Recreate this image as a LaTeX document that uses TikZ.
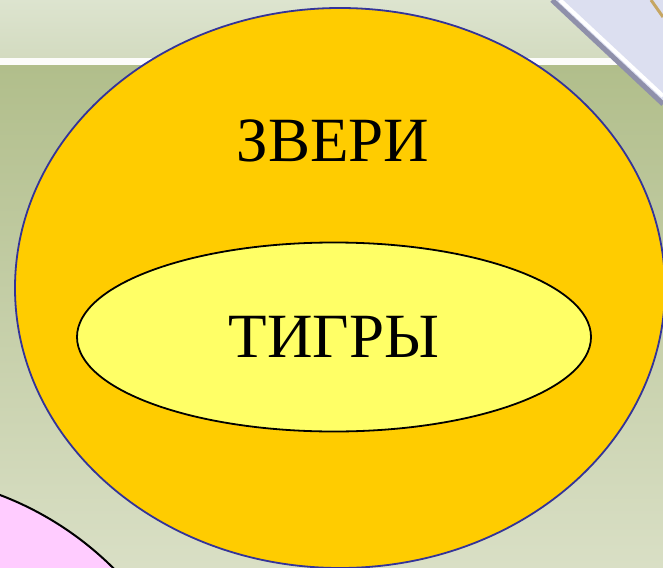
\documentclass[tikz,border=0pt]{standalone}
\usepackage{fontspec}
\setmainfont{Liberation Serif}
\usetikzlibrary{shapes.geometric}
\definecolor{bgtop}{HTML}{DDE4CF}
\definecolor{bgtopb}{HTML}{D3DBC0}
\definecolor{bgmid}{HTML}{B1BE8B}
\definecolor{bgbot}{HTML}{D9DFC5}
\definecolor{setorange}{HTML}{FFCC00}
\definecolor{setyellow}{HTML}{FFFF66}
\definecolor{setblue}{HTML}{333399}
\definecolor{setpink}{HTML}{FFCCFF}
\definecolor{barlav}{HTML}{DCDFF0}
\definecolor{bardark}{HTML}{6E6E8C}
\definecolor{bargold}{HTML}{B8903C}
\tikzset{
  bigset/.style={ellipse, draw=setblue, line width=1.8pt, fill=setorange, inner sep=0pt, outer sep=0pt},
  subset/.style={ellipse, draw=black, line width=1.8pt, fill=setyellow, inner sep=0pt, outer sep=0pt, font=\fontsize{63}{63}\selectfont},
  settext/.style={inner sep=0pt, font=\fontsize{63}{63}\selectfont},
}
\begin{document}
\begin{tikzpicture}[x=1pt,y=-1pt]
\useasboundingbox (0,0) rectangle (663,567);
% background
\shade[top color=bgtop, bottom color=bgtopb] (0,0) rectangle (663,58);
\fill[white!90!bgtop] (0,58) rectangle (663,66);
\shade[top color=bgmid, bottom color=bgbot] (0,66) rectangle (663,567);
% top-right bar
\fill[barlav] (552,0) -- (663,103) -- (663,0) -- cycle;
\draw[line width=5pt, bardark!70!barlav] (552,0) -- (663,104);
\draw[line width=4pt, white] (560,0) -- (663,96);
\draw[line width=3pt, bargold!80!white] (651,0) -- (663,17);
% pink circle
\draw[line width=2pt, fill=setpink] (-115,798) circle[radius=324];
% sets
\node[bigset, minimum width=650pt, minimum height=560pt] (zveri) at (340,288) {};
\node[settext] (zverilabel) at (333,141) {ЗВЕРИ};
\node[subset, minimum width=514pt, minimum height=189pt] (tigry) at (334,337) {ТИГРЫ};
\end{tikzpicture}
\end{document}
